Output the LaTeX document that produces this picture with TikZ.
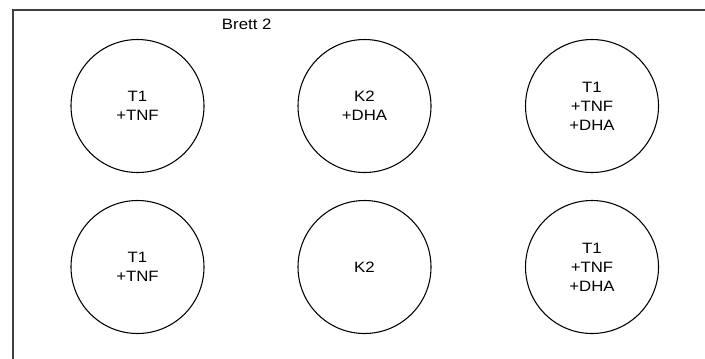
\documentclass[tikz,border=0pt]{standalone}
\usepackage{fontspec}
\setmainfont[FakeStretch=1.12]{Liberation Sans}
\begin{document}
\begin{tikzpicture}[x=0.75pt,y=-0.75pt,
  well/.style={circle,draw=black,line width=0.8pt,minimum size=99.75pt,inner sep=0pt,
    align=center,font=\fontsize{11.25}{14.2}\selectfont},
  frame/.style={draw=black!75,line width=1pt},
  label/.style={font=\fontsize{11.25}{14.2}\selectfont,inner sep=0pt}]
  \useasboundingbox (0,0) rectangle (705,358);
  \clip (0,0) rectangle (705,358);
  % plate outline, running past the right and bottom edges
  \draw[frame] (13,10) rectangle (720,380);
  \node[label] (title) at (246.7,24.5) {Brett 2};
  % top row of wells
  \node[well] (a1) at (137.5,106) {T1\\+TNF};
  \node[well] (a2) at (364.5,106) {K2\\+DHA};
  \node[well] (a3) at (592,106) {T1\\+TNF\\+DHA};
  % bottom row of wells
  \node[well] (b1) at (137.5,267) {T1\\+TNF};
  \node[well] (b2) at (364.5,267) {K2};
  \node[well] (b3) at (592,267) {T1\\+TNF\\+DHA};
\end{tikzpicture}
\end{document}
